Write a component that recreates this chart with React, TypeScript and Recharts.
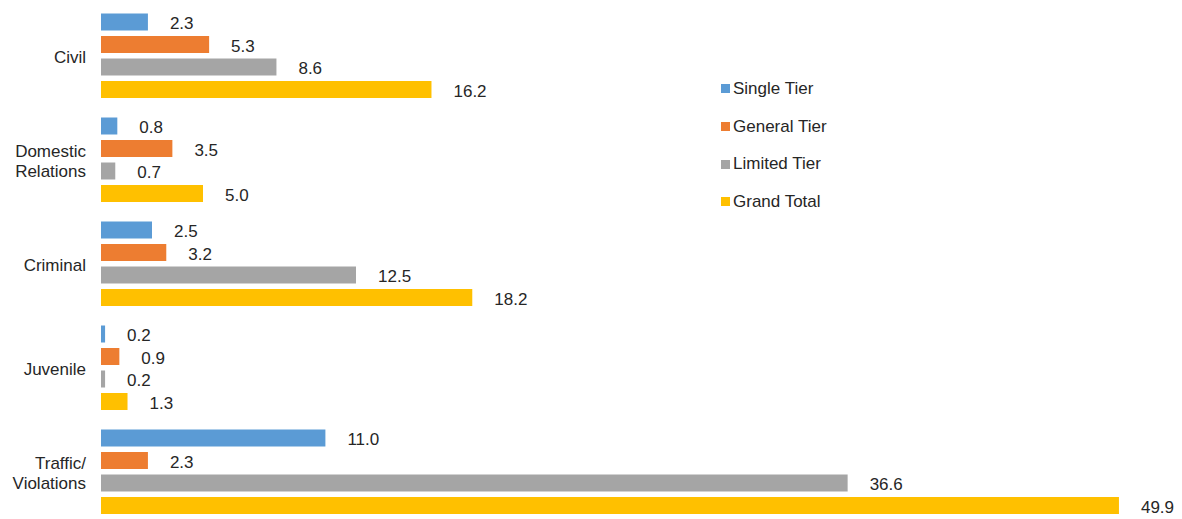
import { Bar, BarChart, XAxis, YAxis } from "recharts";

const categories = ["Civil", "Domestic Relations", "Criminal", "Juvenile", "Traffic/ Violations"];
const singleTier = [2.3, 0.8, 2.5, 0.2, 11.0];
const generalTier = [5.3, 3.5, 3.2, 0.9, 2.3];
const limitedTier = [8.6, 0.7, 12.5, 0.2, 36.6];
const grandTotal = [16.2, 5.0, 18.2, 1.3, 49.9];

const series = [
  { key: "single", name: "Single Tier", color: "#5B9BD5", values: singleTier },
  { key: "general", name: "General Tier", color: "#ED7D31", values: generalTier },
  { key: "limited", name: "Limited Tier", color: "#A5A5A5", values: limitedTier },
  { key: "total", name: "Grand Total", color: "#FFC000", values: grandTotal }
];

const data = categories.map((name, i) => {
  const row: Record<string, string | number> = { name };
  series.forEach((s) => (row[s.key] = s.values[i]));
  return row;
});

const font = "'Liberation Sans', Arial, Helvetica, sans-serif";
const textColor = "#262626";

function CategoryTick(props: any) {
  const { x, y, payload } = props;
  const lines = String(payload.value).split(" ");
  const lh = 20;
  const start = -((lines.length - 1) * lh) / 2;
  return (
    <text x={x} y={y} textAnchor="end" fontSize={17} fill={textColor} fontFamily={font}>
      {lines.map((l, i) => (
        <tspan key={i} x={x} y={y + start + i * lh} dy="0.42em">
          {l}
        </tspan>
      ))}
    </text>
  );
}

function ValueLabel(props: any) {
  const { x, y, width, height, value } = props;
  return (
    <text
      x={x + width + 22}
      y={y + height / 2}
      dy="0.42em"
      fontSize={17}
      fill={textColor}
      fontFamily={font}
    >
      {Number(value).toFixed(1)}
    </text>
  );
}

export default function App() {
  return (
    <div style={{ position: "fixed", inset: 0, overflow: "hidden", background: "#fff", fontFamily: font }}>
      <BarChart
        width={1182}
        height={525}
        data={data}
        layout="vertical"
        margin={{ top: 3.5, right: 61, bottom: 1.5, left: 0 }}
        barSize={17}
        barGap={5.5}
      >
        <XAxis type="number" domain={[0, 50]} hide />
        <YAxis
          type="category"
          dataKey="name"
          width={101}
          axisLine={false}
          tickLine={false}
          tickSize={0}
          tickMargin={15}
          tick={<CategoryTick />}
          interval={0}
        />
        {series.map((s) => (
          <Bar
            key={s.key}
            dataKey={s.key}
            name={s.name}
            fill={s.color}
            isAnimationActive={false}
            label={<ValueLabel />}
          />
        ))}
      </BarChart>
      <div style={{ position: "absolute", left: 721, top: 70 }}>
        {series.map((s) => (
          <div
            key={s.key}
            style={{ display: "flex", alignItems: "center", height: 37.7, fontSize: 17, color: textColor }}
          >
            <span style={{ width: 9, height: 9, background: s.color, marginRight: 3, display: "inline-block" }} />
            <span>{s.name}</span>
          </div>
        ))}
      </div>
    </div>
  );
}
